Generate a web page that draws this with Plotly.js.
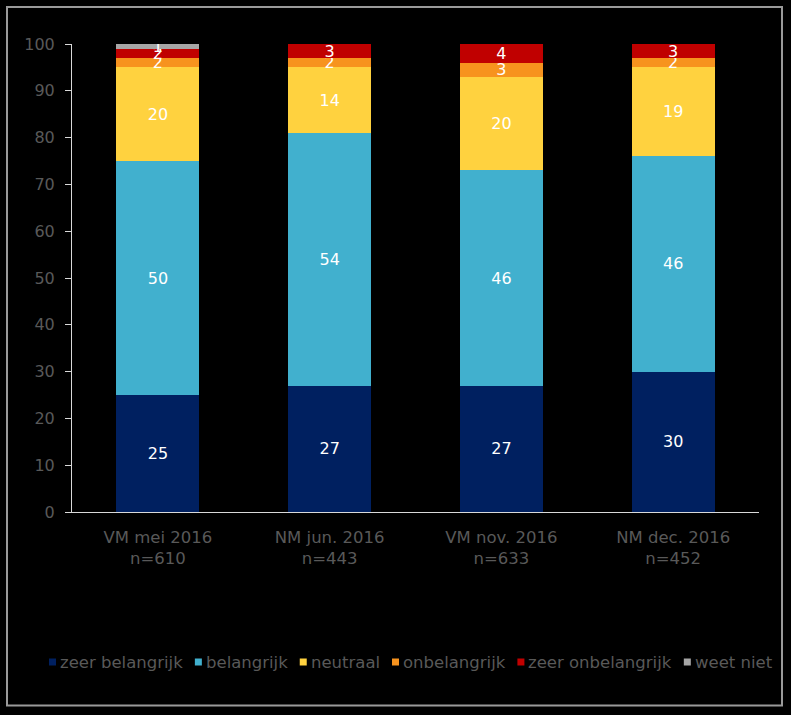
<!DOCTYPE html>
<html>
<head>
<meta charset="utf-8">
<script src="https://cdn.plot.ly/plotly-3.0.1.min.js"></script>
<style>
html,body{margin:0;padding:0;background:#000;}
#chart{width:791px;height:715px;}
</style>
</head>
<body>
<div id="chart"></div>
<script>
// ---- data ----
var categories = ["VM mei 2016<br>n=610", "NM jun. 2016<br>n=443", "VM nov. 2016<br>n=633", "NM dec. 2016<br>n=452"];
var seriesNames = ["zeer belangrijk", "belangrijk", "neutraal", "onbelangrijk", "zeer onbelangrijk", "weet niet"];
var zeerBelangrijk   = [25, 27, 27, 30];
var belangrijk       = [50, 54, 46, 46];
var neutraal         = [20, 14, 20, 19];
var onbelangrijk     = [2, 2, 3, 2];
var zeerOnbelangrijk = [2, 3, 4, 3];
var weetNiet         = [1, 0, 0, 0];
var yTicks = [0, 10, 20, 30, 40, 50, 60, 70, 80, 90, 100];

var seriesValues = [zeerBelangrijk, belangrijk, neutraal, onbelangrijk, zeerOnbelangrijk, weetNiet];
var colors = ["#002060", "#41B0CE", "#FFD23F", "#F7931E", "#C00000", "#A6A6A6"];

var W = 791, H = 715;
var M = {l: 72, r: 32, t: 44, b: 203};
var pw = W - M.l - M.r, ph = H - M.t - M.b;
function px(x) { return (x - M.l) / pw; }
function py(y) { return (H - M.b - y) / ph; }

var FONT = "DejaVu Sans, Verdana, sans-serif";
var GREY = "#595959";

var traces = seriesNames.map(function (name, i) {
  return {
    type: "bar",
    name: name,
    x: categories,
    y: seriesValues[i],
    text: seriesValues[i].map(function (v) { return v > 0 ? String(v) : ""; }),
    textposition: "inside",
    insidetextanchor: "middle",
    constraintext: "none",
    textangle: 0,
    textfont: {family: FONT, size: 16, color: "#ffffff"},
    marker: {color: colors[i], line: {width: 0}},
    hoverinfo: "skip",
    showlegend: false
  };
});

// custom legend (compact, like the original)
var shapes = [];
var annotations = [];
var legFontSize = 16.5;
var ctx = document.createElement("canvas").getContext("2d");
ctx.font = legFontSize + "px " + FONT;
var sq = 7, gapA = 5, gapB = 9;
var widths = seriesNames.map(function (n) { return ctx.measureText(n).width; });
var total = 0;
widths.forEach(function (w, i) { total += sq + gapA + w + (i < widths.length - 1 ? gapB : 0); });
var legLeft = 49, legRight = 773;
var extra = (legRight - legLeft - total) / (seriesNames.length - 1);
gapB += extra;
var legY = 662;
var cx = legLeft;
seriesNames.forEach(function (n, i) {
  shapes.push({
    type: "rect", xref: "paper", yref: "paper",
    x0: px(cx), x1: px(cx + sq), y0: py(legY + sq / 2), y1: py(legY - sq / 2),
    fillcolor: colors[i], line: {width: 0}
  });
  annotations.push({
    xref: "paper", yref: "paper", x: px(cx + sq + gapA - 3), y: py(legY),
    xanchor: "left", yanchor: "middle", showarrow: false,
    text: n, font: {family: FONT, size: legFontSize, color: GREY}
  });
  cx += sq + gapA + widths[i] + gapB;
});

// outer border
shapes.push({
  type: "rect", xref: "paper", yref: "paper",
  x0: px(7), x1: px(782), y0: py(705.5), y1: py(7),
  line: {color: "#9a9a9a", width: 2}, fillcolor: "rgba(0,0,0,0)"
});

var layout = {
  width: W, height: H,
  margin: M,
  paper_bgcolor: "#000000",
  plot_bgcolor: "#000000",
  barmode: "stack",
  bargap: 0.517,
  showlegend: false,
  font: {family: FONT, color: GREY},
  xaxis: {
    type: "category",
    showline: true, linecolor: "#d9d9d9", linewidth: 1,
    ticks: "", showgrid: false, zeroline: false,
    ticklabelstandoff: 10,
    tickfont: {family: FONT, size: 16.5, color: GREY},
    fixedrange: true
  },
  yaxis: {
    range: [0, 100],
    tickvals: yTicks,
    ticktext: yTicks.map(String),
    showline: true, linecolor: "#d9d9d9", linewidth: 1,
    ticks: "outside", ticklen: 6, tickcolor: "#d9d9d9", tickwidth: 1,
    ticklabelstandoff: 7,
    showgrid: false, zeroline: false,
    tickfont: {family: FONT, size: 16, color: GREY},
    fixedrange: true
  },
  shapes: shapes,
  annotations: annotations
};

Plotly.newPlot("chart", traces, layout, {displayModeBar: false, staticPlot: true});
</script>
</body>
</html>
